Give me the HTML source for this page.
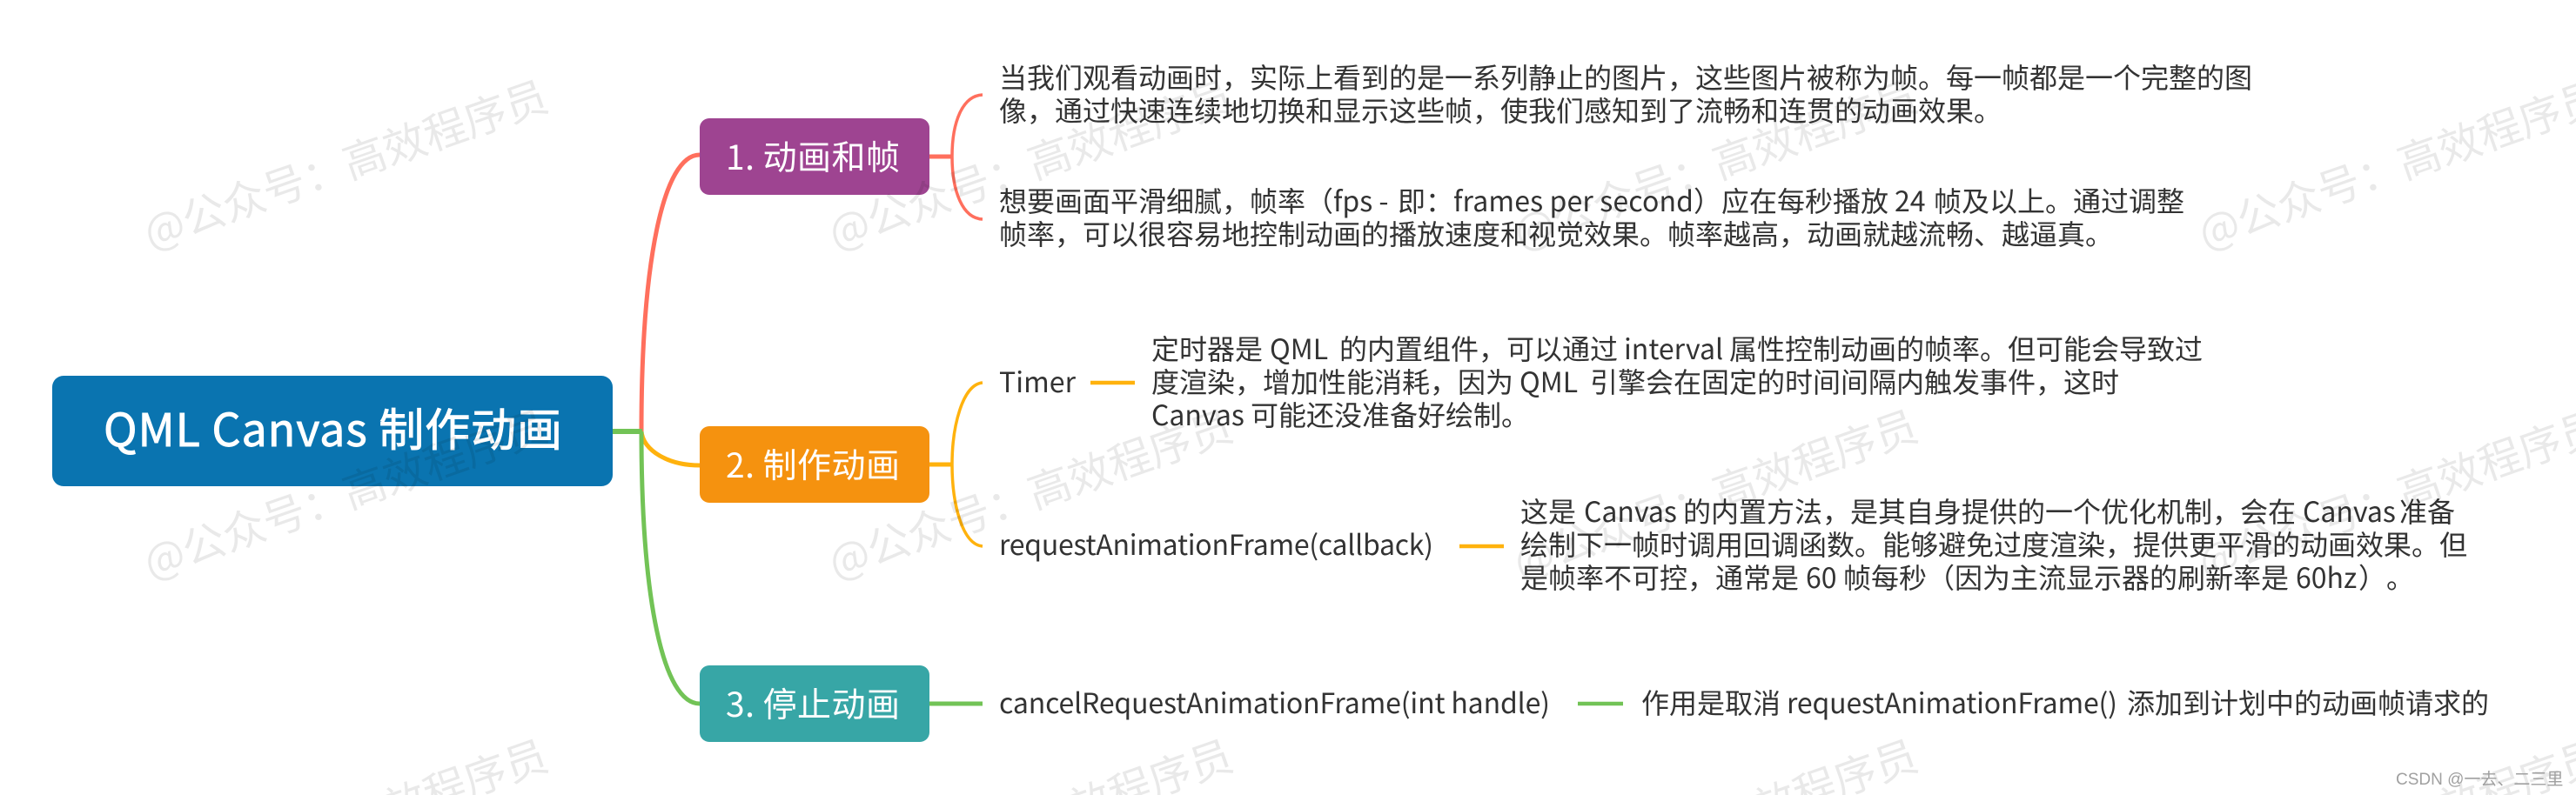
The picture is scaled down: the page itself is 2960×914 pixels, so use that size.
<!DOCTYPE html>
<html lang="zh-CN">
<head>
<meta charset="utf-8">
<style>
html,body{margin:0;padding:0;background:#fff;width:2960px;height:914px;overflow:hidden}
svg{display:block;overflow:hidden}
text{font-family:"Noto Sans CJK SC","Liberation Sans",sans-serif;text-spacing-trim:space-all}
.t{font-size:32px;fill:#333}
.n{font-size:39px;fill:#fff}
.w{font-size:49px;fill:#000;fill-opacity:.085}
</style>
</head>
<body>
<svg xmlns="http://www.w3.org/2000/svg" width="2960" height="914" viewBox="0 0 2960 914" xml:lang="zh-CN">
<defs><clipPath id="c"><rect width="2960" height="914"/></clipPath></defs>
<rect width="2960" height="914" fill="#fff"/>
<g fill="none">
<path d="M737 496C737 300 762 178 804 178" stroke="#ff6f5d" stroke-width="5"/>
<path d="M737 496C739 518 768 535 804 535" stroke="#ffb20d" stroke-width="5"/>
<path d="M737 496C737 690 762 809 804 809" stroke="#72c356" stroke-width="5"/>
<path d="M704 496H738" stroke="#72c356" stroke-width="6"/>
<path d="M1068 180H1094" stroke="#ff6f5d" stroke-width="5"/>
<path d="M1094 180C1094 140 1106 110 1129 109M1094 180C1094 220 1106 251 1129 252" stroke="#ff6f5d" stroke-width="3.5"/>
<path d="M1068 534H1094" stroke="#ffb20d" stroke-width="5"/>
<path d="M1094 534C1094 490 1106 442 1129 440M1094 534C1094 580 1106 626 1129 628" stroke="#ffb20d" stroke-width="3.5"/>
<path d="M1068 809H1129" stroke="#72c356" stroke-width="5"/>
<path d="M1253 440H1304M1677 628H1728" stroke="#ffb20d" stroke-width="4.5"/>
<path d="M1813 809H1865" stroke="#72c356" stroke-width="4.5"/>
</g>
<rect x="60" y="432" width="644" height="127" rx="13" fill="#0a74b0"/>
<rect x="804" y="136" width="264" height="88" rx="11" fill="#9e4491"/>
<rect x="804" y="490" width="264" height="88" rx="11" fill="#f5920f"/>
<rect x="804" y="765" width="264" height="88" rx="11" fill="#37a6a6"/>
<text x="119" y="513" font-size="52" fill="#fff" stroke="#fff" stroke-width=".9" textLength="527" lengthAdjust="spacing">QML Canvas 制作动画</text>
<text class="n" x="834" y="195" textLength="200" lengthAdjust="spacing">1. 动画和帧</text>
<text class="n" x="834" y="549" textLength="200" lengthAdjust="spacing">2. 制作动画</text>
<text class="n" x="834" y="824" textLength="200" lengthAdjust="spacing">3. 停止动画</text>
<text class="t" x="1148" y="101">当我们观看动画时，实际上看到的是一系列静止的图片，这些图片被称为帧。每一帧都是一个完整的图</text>
<text class="t" x="1148" y="139">像，通过快速连续地切换和显示这些帧，使我们感知到了流畅和连贯的动画效果。</text>
<text class="t" x="1148" y="243">想要画面平滑细腻，帧率（<tspan x="1532">fps - </tspan><tspan x="1606">即：</tspan></text>
<text class="t" x="1670" y="243" textLength="276" lengthAdjust="spacing">frames per second</text>
<text class="t" x="1946" y="243">）应在每秒播放<tspan x="2177">24</tspan><tspan x="2222">帧及以上。通过调整</tspan></text>
<text class="t" x="1148" y="281">帧率，可以很容易地控制动画的播放速度和视觉效果。帧率越高，动画就越流畅、越逼真。</text>
<text class="t" x="1148" y="451" textLength="88" lengthAdjust="spacing">Timer</text>
<text class="t" x="1323" y="413">定时器是<tspan x="1459">QML</tspan><tspan x="1539">的内置组件，可以通过</tspan><tspan x="1866">interval</tspan><tspan x="1987">属性控制动画的帧率。但可能会导致过</tspan></text>
<text class="t" x="1323" y="451">度渲染，增加性能消耗，因为<tspan x="1746">QML</tspan><tspan x="1827">引擎会在固定的时间间隔内触发事件，这时</tspan></text>
<text class="t" x="1323" y="489">Canvas<tspan x="1437">可能还没准备好绘制。</tspan></text>
<text class="t" x="1148" y="638" textLength="499" lengthAdjust="spacing">requestAnimationFrame(callback)</text>
<text class="t" x="1747" y="600">这是<tspan x="1820">Canvas</tspan><tspan x="1934">的内置方法，是其自身提供的一个优化机制，会在</tspan><tspan x="2646">Canvas</tspan><tspan x="2757">准备</tspan></text>
<text class="t" x="1747" y="638">绘制下一帧时调用回调函数。能够避免过度渲染，提供更平滑的动画效果。但</text>
<text class="t" x="1747" y="676">是帧率不可控，通常是<tspan x="2075">60</tspan><tspan x="2118">帧每秒（因为主流显示器的刷新率是</tspan><tspan x="2638">60hz</tspan><tspan x="2710">）。</tspan></text>
<text class="t" x="1148" y="820" textLength="633" lengthAdjust="spacing">cancelRequestAnimationFrame(int handle)</text>
<text class="t" x="1886" y="820">作用是取消</text>
<text class="t" x="2053" y="820" textLength="380" lengthAdjust="spacing">requestAnimationFrame()</text>
<text class="t" x="2444" y="820">添加到计划中的动画帧请求的</text>
<g clip-path="url(#c)">
<text class="w" transform="translate(173,286.5) rotate(-19.3)">@公众号：高效程序员</text>
<text class="w" transform="translate(960,286.5) rotate(-19.3)">@公众号：高效程序员</text>
<text class="w" transform="translate(1747,286.5) rotate(-19.3)">@公众号：高效程序员</text>
<text class="w" transform="translate(2534,286.5) rotate(-19.3)">@公众号：高效程序员</text>
<text class="w" transform="translate(173,665.5) rotate(-19.3)">@公众号：高效程序员</text>
<text class="w" transform="translate(960,665.5) rotate(-19.3)">@公众号：高效程序员</text>
<text class="w" transform="translate(1747,665.5) rotate(-19.3)">@公众号：高效程序员</text>
<text class="w" transform="translate(2534,665.5) rotate(-19.3)">@公众号：高效程序员</text>
<text class="w" transform="translate(173,1044.5) rotate(-19.3)">@公众号：高效程序员</text>
<text class="w" transform="translate(960,1044.5) rotate(-19.3)">@公众号：高效程序员</text>
<text class="w" transform="translate(1747,1044.5) rotate(-19.3)">@公众号：高效程序员</text>
<text class="w" transform="translate(2534,1044.5) rotate(-19.3)">@公众号：高效程序员</text>
</g>
<text x="2753" y="902" font-size="19" fill="#a0a0a0" style="font-family:'Liberation Sans','Noto Sans CJK SC',sans-serif">CSDN @一去、二三里</text>
</svg>
</body>
</html>
